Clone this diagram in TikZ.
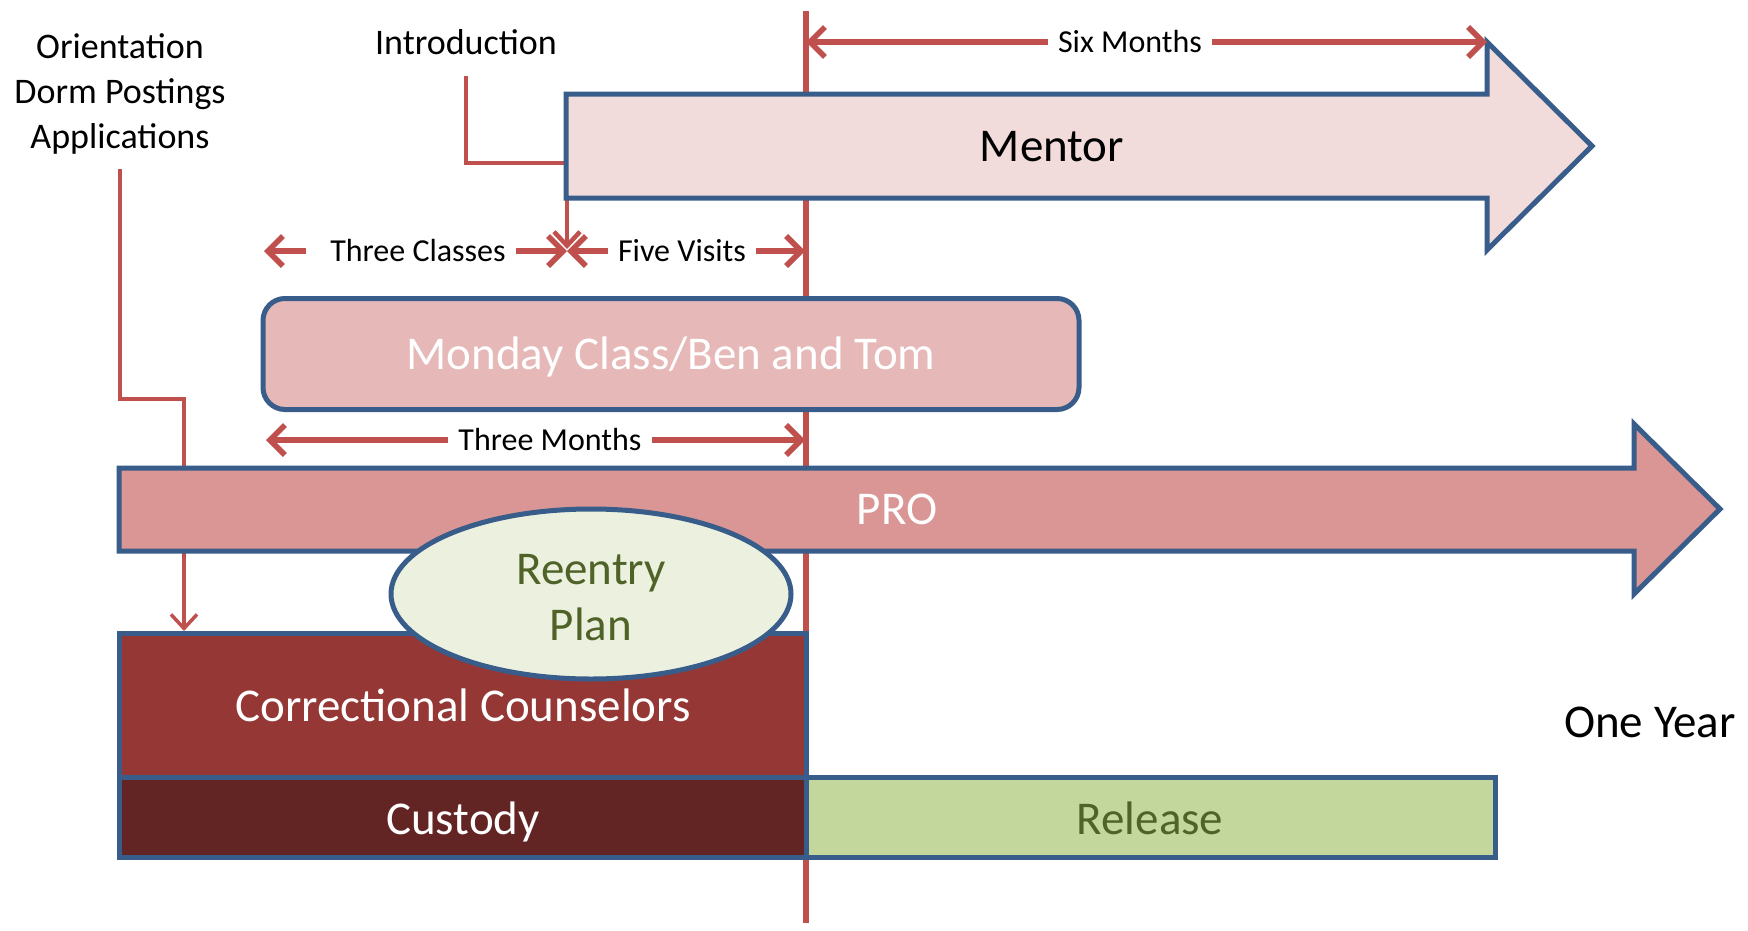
\documentclass[tikz,border=0pt]{standalone}
\usepackage{fontspec}
\setmainfont{Carlito}
\usetikzlibrary{arrows.meta,shapes.geometric}
\definecolor{redline}{HTML}{C0504D}
\definecolor{blueline}{HTML}{385D8A}
\definecolor{mentorfill}{HTML}{F2DCDB}
\definecolor{mondayfill}{HTML}{E6B9B8}
\definecolor{profill}{HTML}{D99694}
\definecolor{reentryfill}{HTML}{EBF1DE}
\definecolor{olivetext}{HTML}{4F6228}
\definecolor{corrfill}{HTML}{953735}
\definecolor{custfill}{HTML}{632523}
\definecolor{relfill}{HTML}{C3D69B}
\newcommand\fBig{\fontsize{47}{56}\selectfont}
\newcommand\fMid{\fontsize{36}{44.6}\selectfont}
\newcommand\fSm{\fontsize{32}{38}\selectfont}
\begin{document}
\begin{tikzpicture}[x=1pt,y=-1pt,
  redl/.style={draw=redline,line width=6pt},
  dimline/.style={draw=redline,line width=5.5pt,arrows={-Straight Barb[length=15pt,width=30pt]}},
  connline/.style={draw=redline,line width=4.5pt,arrows={-Straight Barb[length=14pt,width=26pt]}},
  bluebox/.style={draw=blueline,line width=5pt},
  boxnode/.style={bluebox,inner sep=0pt,outer sep=0pt,font=\fBig},
  biglbl/.style={inner sep=0pt,font=\fBig,text height=31pt,text depth=0pt},
  midlbl/.style={inner sep=0pt,font=\fMid,text height=23.8pt,text depth=0pt},
  dimlbl/.style={inner sep=0pt,font=\fSm,text height=21pt,text depth=0pt,inner xsep=10pt}]
\useasboundingbox (0,0) rectangle (1748,930);
\fill[white] (0,0) rectangle (1748,930);

% main vertical time line
\coordinate (vtop) at (806,11);
\coordinate (vbot) at (806,923);
\draw[redl] (vtop) -- (vbot);

% top labels
\node[align=center,font=\fMid,inner sep=0pt] (orient) at (120,94) {Orientation\\Dorm Postings\\Applications};
\node[midlbl] (intro) at (466,43) {Introduction};

% connectors from labels
\coordinate (o1) at (120,169);
\coordinate (o2) at (120,399);
\coordinate (o3) at (184,399);
\coordinate (o4) at (184,631);
\draw[connline,line width=3.5pt] (o1) -- (o2) -- (o3) -- (o4);
\coordinate (i1) at (466,76);
\coordinate (i2) at (466,163);
\coordinate (i3) at (567,163);
\coordinate (i4) at (567,249);
\draw[connline] (i1) -- (i2) -- (i3) -- (i4);

% Mentor arrow
\draw[bluebox,fill=mentorfill,line join=miter]
  (566,94) -- (1487,94) -- (1487,42) -- (1592,146) -- (1487,250) -- (1487,198) -- (566,198) -- cycle;
\node[biglbl] (mentor) at (1052,146) {Mentor};

% Six Months
\node[dimlbl] (six) at (1130,42) {Six Months};
\coordinate (sixL) at (806,42);
\coordinate (sixR) at (1487,42);
\draw[dimline] (six.west) -- (sixL);
\draw[dimline] (six.east) -- (sixR);

% Three Classes / Five Visits
\node[dimlbl] (three) at (418,251) {Three Classes};
\coordinate (tcL) at (264,251);
\coordinate (mid) at (567,251);
\draw[dimline] ([xshift=-14pt]three.west) -- (tcL);
\draw[dimline] (three.east) -- (mid);
\node[dimlbl] (five) at (682,251) {Five Visits};
\coordinate (fvR) at (805,251);
\draw[dimline] (five.west) -- (mid);
\draw[dimline] (five.east) -- (fvR);

% Monday class box
\node[boxnode,fill=mondayfill,rounded corners=22pt,minimum width=816pt,minimum height=111pt] (monday) at (671,354) {};
\node[biglbl,text=white] (mondaytxt) at (monday.center) {Monday Class/Ben and Tom};

% Three Months
\node[dimlbl] (threem) at (550,440) {Three Months};
\coordinate (tmL) at (266,440);
\coordinate (tmR) at (805,440);
\draw[dimline] (threem.west) -- (tmL);
\draw[dimline] (threem.east) -- (tmR);

% PRO arrow
\draw[bluebox,fill=profill,line join=miter]
  (119,468) -- (1634,468) -- (1634,424) -- (1720,509) -- (1634,594) -- (1634,551) -- (119,551) -- cycle;
\node[biglbl,text=white] (pro) at (897,509) {PRO};

% bottom boxes
\node[boxnode,fill=corrfill,minimum width=687pt,minimum height=144pt] (corr) at (462.5,705) {};
\node[biglbl,text=white] (corrtxt) at (463,706) {Correctional Counselors};
\node[boxnode,fill=custfill,minimum width=687pt,minimum height=80pt] (cust) at (462.5,817) {};
\node[biglbl,text=white] (custtxt) at (463,819) {Custody};
\node[boxnode,fill=relfill,minimum width=689pt,minimum height=80pt] (rel) at (1150.5,817) {};
\node[biglbl,text=olivetext] (reltxt) at (1150,819) {Release};

% Reentry plan ellipse
\node[ellipse,bluebox,fill=reentryfill,minimum width=400pt,minimum height=170pt,inner sep=0pt] (reentry) at (591,594) {};
\node[align=center,font=\fBig,text=olivetext,inner sep=0pt] (reentrytxt) at (591,598) {Reentry\\Plan};

% One Year
\node[biglbl] (oneyear) at (1650,722) {One Year};
\end{tikzpicture}
\end{document}
